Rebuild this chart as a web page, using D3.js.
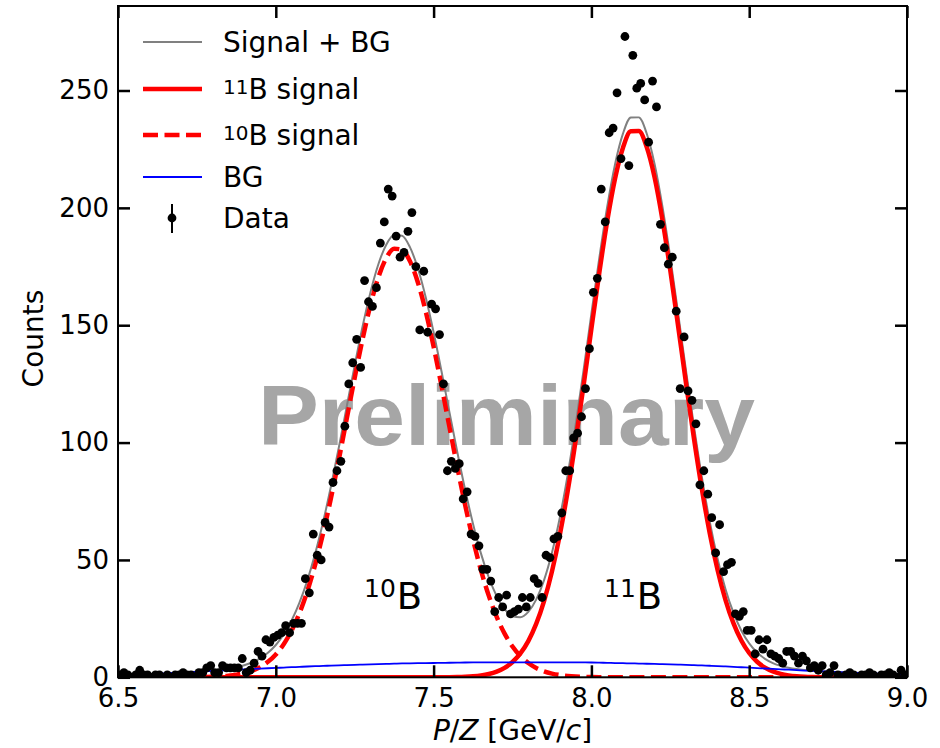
<!DOCTYPE html>
<html>
<head>
<meta charset="utf-8">
<script src="https://cdn.jsdelivr.net/npm/d3@7"></script>
<style>
  body { margin: 0; background: #fff; }
  svg { display: block; font-family: "DejaVu Sans", sans-serif; }
</style>
</head>
<body>
<svg id="chart" width="940" height="748"></svg>
<script>
// histogram bin centres (GeV/c) and counts
const binCenters = [
  6.50625, 6.51875, 6.53125, 6.54375, 6.55625, 6.56875, 6.58125, 6.59375,
  6.60625, 6.61875, 6.63125, 6.64375, 6.65625, 6.66875, 6.68125, 6.69375,
  6.70625, 6.71875, 6.73125, 6.74375, 6.75625, 6.76875, 6.78125, 6.79375,
  6.80625, 6.81875, 6.83125, 6.84375, 6.85625, 6.86875, 6.88125, 6.89375,
  6.90625, 6.91875, 6.93125, 6.94375, 6.95625, 6.96875, 6.98125, 6.99375,
  7.00625, 7.01875, 7.03125, 7.04375, 7.05625, 7.06875, 7.08125, 7.09375,
  7.10625, 7.11875, 7.13125, 7.14375, 7.15625, 7.16875, 7.18125, 7.19375,
  7.20625, 7.21875, 7.23125, 7.24375, 7.25625, 7.26875, 7.28125, 7.29375,
  7.30625, 7.31875, 7.33125, 7.34375, 7.35625, 7.36875, 7.38125, 7.39375,
  7.40625, 7.41875, 7.43125, 7.44375, 7.45625, 7.46875, 7.48125, 7.49375,
  7.50625, 7.51875, 7.53125, 7.54375, 7.55625, 7.56875, 7.58125, 7.59375,
  7.60625, 7.61875, 7.63125, 7.64375, 7.65625, 7.66875, 7.68125, 7.69375,
  7.70625, 7.71875, 7.73125, 7.74375, 7.75625, 7.76875, 7.78125, 7.79375,
  7.80625, 7.81875, 7.83125, 7.84375, 7.85625, 7.86875, 7.88125, 7.89375,
  7.90625, 7.91875, 7.93125, 7.94375, 7.95625, 7.96875, 7.98125, 7.99375,
  8.00625, 8.01875, 8.03125, 8.04375, 8.05625, 8.06875, 8.08125, 8.09375,
  8.10625, 8.11875, 8.13125, 8.14375, 8.15625, 8.16875, 8.18125, 8.19375,
  8.20625, 8.21875, 8.23125, 8.24375, 8.25625, 8.26875, 8.28125, 8.29375,
  8.30625, 8.31875, 8.33125, 8.34375, 8.35625, 8.36875, 8.38125, 8.39375,
  8.40625, 8.41875, 8.43125, 8.44375, 8.45625, 8.46875, 8.48125, 8.49375,
  8.50625, 8.51875, 8.53125, 8.54375, 8.55625, 8.56875, 8.58125, 8.59375,
  8.60625, 8.61875, 8.63125, 8.64375, 8.65625, 8.66875, 8.68125, 8.69375,
  8.70625, 8.71875, 8.73125, 8.74375, 8.75625, 8.76875, 8.78125, 8.79375,
  8.80625, 8.81875, 8.83125, 8.84375, 8.85625, 8.86875, 8.88125, 8.89375,
  8.90625, 8.91875, 8.93125, 8.94375, 8.95625, 8.96875, 8.98125, 8.99375
];
const counts = [
  1, 2, 1, 0, 1, 3, 1, 1,
  0, 1, 1, 0, 1, 0, 1, 1,
  2, 1, 1, 0, 2, 2, 4, 5,
  2, 2, 5, 4, 4, 4, 4, 8,
  2, 3, 6, 11, 9, 16, 15, 17,
  18, 19, 22, 19, 23, 23, 23, 42,
  36, 61, 52, 50, 66, 64, 83, 88,
  92, 107, 125, 134, 144, 132, 169, 160,
  158, 166, 185, 194, 208, 205, 188, 179,
  181, 190, 198, 175, 148, 173, 147, 159,
  157, 146, 125, 88, 92, 89, 91, 76,
  79, 61, 60, 56, 46, 46, 41, 28,
  34, 30, 35, 27, 28, 29, 34, 30,
  34, 42, 40, 34, 52, 51, 59, 60,
  70, 88, 88, 102, 104, 111, 123, 140,
  164, 170, 208, 194, 232, 234, 249, 221,
  273, 218, 265, 251, 253, 246, 228, 254,
  243, 193, 183, 176, 179, 156, 123, 145,
  122, 118, 108, 82, 88, 78, 68, 53,
  65, 45, 48, 49, 27, 26, 28, 20,
  20, 10, 16, 12, 16, 10, 9, 8,
  6, 11, 11, 9, 6, 9, 7, 4,
  5, 3, 5, 1, 2, 5, 1, 0,
  1, 2, 1, 0, 1, 1, 2, 1,
  0, 1, 1, 2, 1, 0, 3, 1
];

// fit curves on a common grid
const fitX = [
  6.5, 6.525, 6.55, 6.575, 6.6, 6.625, 6.65, 6.675, 6.7, 6.725,
  6.75, 6.775, 6.8, 6.825, 6.85, 6.875, 6.9, 6.925, 6.95, 6.975,
  7.0, 7.025, 7.05, 7.075, 7.1, 7.125, 7.15, 7.175, 7.2, 7.225,
  7.25, 7.275, 7.3, 7.325, 7.35, 7.375, 7.4, 7.425, 7.45, 7.475,
  7.5, 7.525, 7.55, 7.575, 7.6, 7.625, 7.65, 7.675, 7.7, 7.725,
  7.75, 7.775, 7.8, 7.825, 7.85, 7.875, 7.9, 7.925, 7.95, 7.975,
  8.0, 8.025, 8.05, 8.075, 8.1, 8.125, 8.15, 8.175, 8.2, 8.225,
  8.25, 8.275, 8.3, 8.325, 8.35, 8.375, 8.4, 8.425, 8.45, 8.475,
  8.5, 8.525, 8.55, 8.575, 8.6, 8.625, 8.65, 8.675, 8.7, 8.725,
  8.75, 8.775, 8.8, 8.825, 8.85, 8.875, 8.9, 8.925, 8.95, 8.975,
  9.0
];
const fit10B = [
  0, 0, 0, 0, 0, 0, 0, 0.01, 0.02, 0.03,
  0.06, 0.12, 0.21, 0.37, 0.64, 1.07, 1.75, 2.79, 4.34, 6.58,
  9.75, 14.1, 19.88, 27.34, 36.71, 48.07, 61.4, 76.49, 93.0, 110.3,
  127.6, 144.1, 158.6, 170.4, 178.6, 182.6, 182.2, 177.3, 168.3, 155.9,
  140.9, 124.2, 106.8, 89.61, 73.35, 58.57, 45.64, 34.7, 25.72, 18.59,
  13.12, 9.04, 6.07, 3.98, 2.54, 1.59, 0.96, 0.57, 0.33, 0.19,
  0.1, 0.05, 0.03, 0.01, 0, 0, 0, 0, 0, 0,
  0, 0, 0, 0, 0, 0, 0, 0, 0, 0,
  0, 0, 0, 0, 0, 0, 0, 0, 0, 0,
  0, 0, 0, 0, 0, 0, 0, 0, 0, 0,
  0
];
const fit11B = [
  0, 0, 0, 0, 0, 0, 0, 0, 0, 0,
  0, 0, 0, 0, 0, 0, 0, 0, 0, 0,
  0, 0, 0, 0, 0, 0, 0, 0, 0, 0,
  0, 0, 0, 0, 0, 0, 0, 0, 0, 0,
  0.01, 0.03, 0.06, 0.12, 0.24, 0.45, 0.81, 1.43, 2.44, 4.04,
  6.51, 10.17, 15.43, 22.73, 32.48, 45.07, 60.71, 79.39, 100.8, 124.1,
  148.5, 172.3, 194.2, 212.5, 225.6, 232.6, 232.7, 226.0, 213.1, 195.0,
  173.3, 149.4, 125.1, 101.7, 80.18, 61.39, 45.65, 32.92, 23.07, 15.68,
  10.35, 6.63, 4.12, 2.49, 1.46, 0.83, 0.46, 0.25, 0.13, 0.06,
  0.03, 0.01, 0, 0, 0, 0, 0, 0, 0, 0,
  0
];
const fitBG = [
  0.6, 0.78, 0.95, 1.13, 1.3, 1.48, 1.65, 1.83, 2.0, 2.18,
  2.35, 2.53, 2.7, 2.88, 3.05, 3.23, 3.4, 3.55, 3.7, 3.85,
  4.0, 4.15, 4.3, 4.45, 4.6, 4.73, 4.85, 4.98, 5.1, 5.2,
  5.3, 5.4, 5.5, 5.6, 5.7, 5.8, 5.9, 5.95, 6.0, 6.05,
  6.1, 6.15, 6.2, 6.25, 6.3, 6.33, 6.35, 6.38, 6.4, 6.4,
  6.4, 6.4, 6.4, 6.4, 6.4, 6.4, 6.4, 6.38, 6.35, 6.33,
  6.3, 6.23, 6.15, 6.08, 6.0, 5.93, 5.85, 5.78, 5.7, 5.6,
  5.5, 5.4, 5.3, 5.18, 5.05, 4.93, 4.8, 4.63, 4.45, 4.28,
  4.1, 3.93, 3.75, 3.58, 3.4, 3.23, 3.05, 2.88, 2.7, 2.55,
  2.4, 2.25, 2.1, 1.98, 1.85, 1.73, 1.6, 1.5, 1.4, 1.3,
  1.2
];

const xTicks = [6.5, 7.0, 7.5, 8.0, 8.5, 9.0];
const yTicks = [0, 50, 100, 150, 200, 250];

const svg = d3.select('#chart');
svg.append('rect').attr('width', 940).attr('height', 748).attr('fill', '#fff');

const x = d3.scaleLinear().domain([6.5, 9.0]).range([118, 907]);
const y = d3.scaleLinear().domain([0, 286]).range([677.3, 6]);

svg.append('clipPath').attr('id', 'plot-clip')
  .append('rect').attr('x', 118).attr('y', 6).attr('width', 789).attr('height', 671.3);

/////// watermark (under the curves) ///////
svg.append('text')
  .attr('x', 258).attr('y', 445)
  .attr('textLength', 497).attr('lengthAdjust', 'spacingAndGlyphs')
  .style('font-family', '"Liberation Sans", Arial, sans-serif')
  .style('font-weight', 'bold').style('font-size', '86px')
  .attr('fill', '#a6a6a6')
  .text('Preliminary');

/////// fit curves ///////
let plot = svg.append('g').attr('clip-path', 'url(#plot-clip)');

let curveData = (vals)=> fitX.map((v, i)=> ({x: v, y: vals[i]}));
let totalVals = fitX.map((v, i)=> fit10B[i] + fit11B[i] + fitBG[i]);

let lineGen = d3.line()
  .x(d=> x(d.x))
  .y(d=> y(d.y))
  .curve(d3.curveMonotoneX);

plot.append('path').datum(curveData(totalVals))
  .attr('d', lineGen).attr('fill', 'none')
  .attr('stroke', '#808080').attr('stroke-width', 2);

plot.append('path').datum(curveData(fit11B))
  .attr('d', lineGen).attr('fill', 'none')
  .attr('stroke', '#ff0000').attr('stroke-width', 4.5);

plot.append('path').datum(curveData(fit10B))
  .attr('d', lineGen).attr('fill', 'none')
  .attr('stroke', '#ff0000').attr('stroke-width', 4.5)
  .attr('stroke-dasharray', '15,6.5');

plot.append('path').datum(curveData(fitBG))
  .attr('d', lineGen).attr('fill', 'none')
  .attr('stroke', '#0000ff').attr('stroke-width', 1.8);

/////// data points ///////
plot.selectAll('.pt').data(binCenters.map((v, i)=> ({x: v, y: counts[i]})))
  .enter().append('circle').classed('pt', true)
  .attr('cx', d=> x(d.x)).attr('cy', d=> y(d.y))
  .attr('r', 4.4).attr('fill', '#000');

/////// peak labels ///////
let peakLabels = [
  {sup: '10', anchorX: 364},
  {sup: '11', anchorX: 604}
];
peakLabels.forEach(p=> {
  let t = svg.append('text').attr('x', p.anchorX).attr('y', 609).attr('fill', '#000');
  t.append('tspan').text(p.sup).style('font-size', '25px').attr('dy', -12);
  t.append('tspan').text('B').style('font-size', '37px').attr('dy', 12).attr('dx', 1);
});

/////// axes ///////
function styleAxis(g){
  g.select('.domain').remove();
  g.selectAll('.tick line').attr('stroke', '#000').attr('stroke-width', 2.5);
  g.selectAll('.tick text').attr('fill', '#000')
    .style('font-family', '"DejaVu Sans", sans-serif').style('font-size', '26px');
}

svg.append('g').attr('transform', 'translate(0,677.3)')
  .call(d3.axisBottom(x).tickValues(xTicks).tickFormat(d3.format('.1f'))
    .tickSizeInner(-12).tickSizeOuter(0).tickPadding(11))
  .call(styleAxis);

svg.append('g').attr('transform', 'translate(0,6)')
  .call(d3.axisTop(x).tickValues(xTicks).tickFormat('')
    .tickSizeInner(-12).tickSizeOuter(0))
  .call(styleAxis);

svg.append('g').attr('transform', 'translate(118,0)')
  .call(d3.axisLeft(y).tickValues(yTicks)
    .tickSizeInner(-12).tickSizeOuter(0).tickPadding(9))
  .call(styleAxis);

svg.append('g').attr('transform', 'translate(907,0)')
  .call(d3.axisRight(y).tickValues(yTicks).tickFormat('')
    .tickSizeInner(-12).tickSizeOuter(0))
  .call(styleAxis);

svg.append('rect')
  .attr('x', 118).attr('y', 6).attr('width', 789).attr('height', 671.3)
  .attr('fill', 'none').attr('stroke', '#000').attr('stroke-width', 2);

/////// axis titles ///////
let xTitle = svg.append('text').attr('x', 512.5).attr('y', 740)
  .attr('text-anchor', 'middle').style('font-size', '28px').attr('fill', '#000');
xTitle.append('tspan').text('P').style('font-style', 'italic');
xTitle.append('tspan').text('/');
xTitle.append('tspan').text('Z').style('font-style', 'italic');
xTitle.append('tspan').text(' [GeV/');
xTitle.append('tspan').text('c').style('font-style', 'italic');
xTitle.append('tspan').text(']');

svg.append('text')
  .attr('transform', 'translate(43,338.5) rotate(-90)')
  .attr('text-anchor', 'middle').style('font-size', '28px').attr('fill', '#000')
  .text('Counts');

/////// legend ///////
let legend = svg.append('g').classed('legend', true);
let legendRows = [
  {label: 'Signal + BG', cy: 42, color: '#808080', width: 2, dash: null},
  {label: ' signal', sup: '11', cy: 89, color: '#ff0000', width: 4.5, dash: null},
  {label: ' signal', sup: '10', cy: 135, color: '#ff0000', width: 4.5, dash: '15,6.5'},
  {label: 'BG', cy: 177, color: '#0000ff', width: 1.8, dash: null},
  {label: 'Data', cy: 218, marker: true}
];
legendRows.forEach(r=> {
  if(r.marker){
    legend.append('line').attr('x1', 172).attr('x2', 172)
      .attr('y1', r.cy - 14).attr('y2', r.cy + 15)
      .attr('stroke', '#000').attr('stroke-width', 2);
    legend.append('circle').attr('cx', 172).attr('cy', r.cy).attr('r', 4.4).attr('fill', '#000');
  }else{
    legend.append('line').attr('x1', 143).attr('x2', 202)
      .attr('y1', r.cy).attr('y2', r.cy)
      .attr('stroke', r.color).attr('stroke-width', r.width)
      .attr('stroke-dasharray', r.dash);
  }
  let t = legend.append('text').attr('x', 223).attr('y', r.cy + 10.2)
    .style('font-size', '28px').attr('fill', '#000');
  if(r.sup){
    t.append('tspan').text(r.sup).style('font-size', '20px').attr('dy', -5);
    t.append('tspan').text('B' + r.label).attr('dy', 5);
  }else{
    t.text(r.label);
  }
});
</script>
</body>
</html>
